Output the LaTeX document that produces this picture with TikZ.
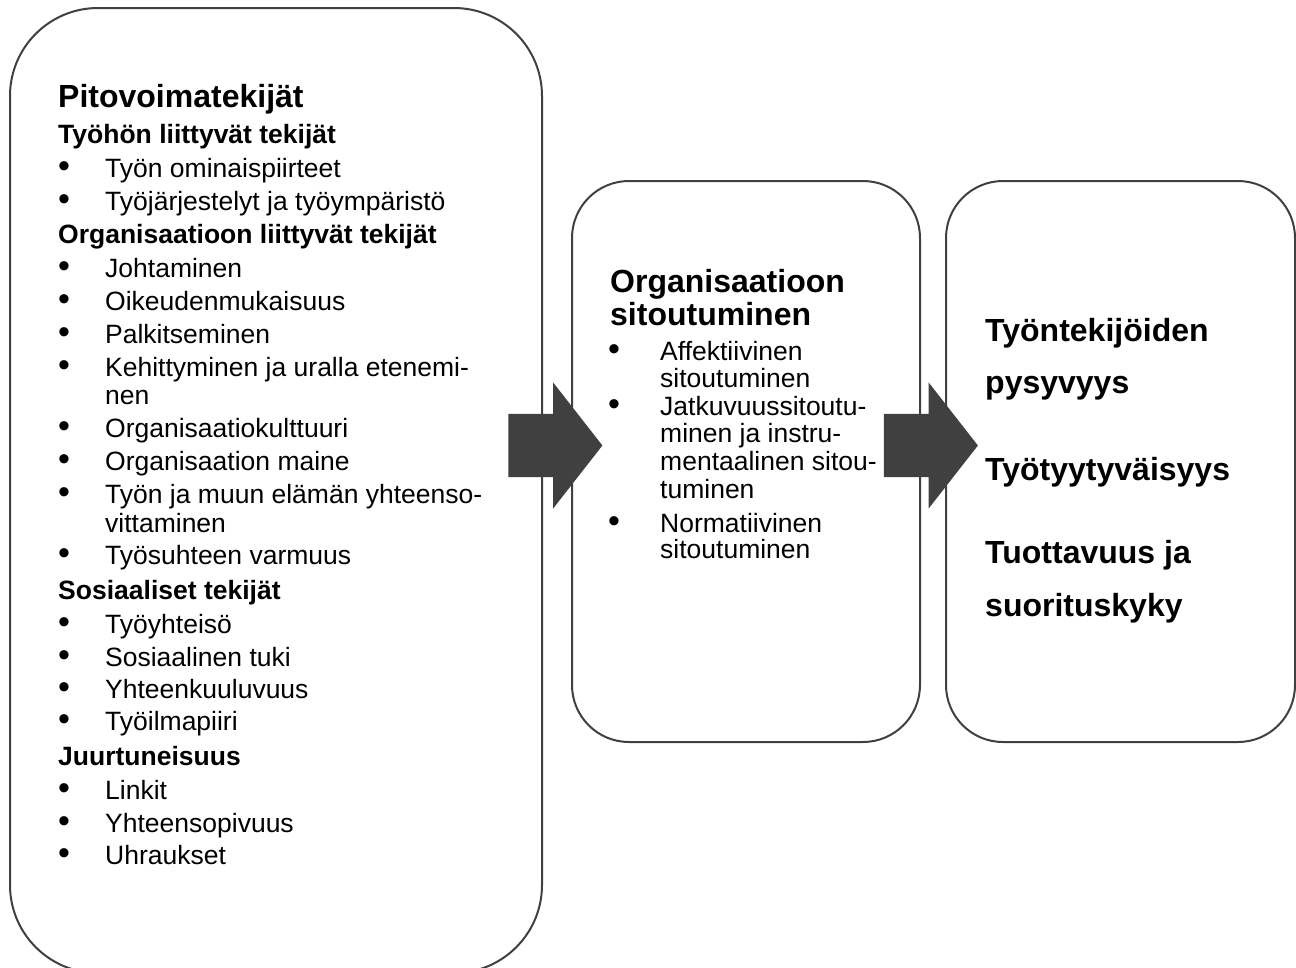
\documentclass[tikz,border=0pt]{standalone}
\usepackage{fontspec}
\setmainfont{Liberation Sans}
\usetikzlibrary{shapes.arrows}
\definecolor{darkgrey}{RGB}{64,64,64}
\newcommand{\bulleted}[2][47pt]{\makebox[#1][l]{\fontsize{34}{30}\selectfont\textbullet}#2}

\begin{document}
\begin{tikzpicture}[
  x=1pt, y=-1pt,
  box/.style={draw=darkgrey, fill=white, rectangle, line width=2pt,
    inner sep=0pt},
  bigbox/.style={box, rounded corners=88pt},
  smallbox/.style={box, rounded corners=57pt},
  bigarrow/.style={single arrow, fill=darkgrey, draw=none, inner sep=0pt,
    text width=0pt, text height=31.5pt, text depth=31.5pt,
    minimum height=94pt, single arrow head extend=31.5pt,
    single arrow tip angle=104},
  title/.style={anchor=base west, inner sep=0pt,
    font=\fontsize{32}{38}\selectfont\bfseries},
  heading/.style={anchor=base west, inner sep=0pt,
    font=\fontsize{26.5}{30}\selectfont\bfseries},
  entry/.style={anchor=base west, inner sep=0pt,
    font=\fontsize{26.5}{30}\selectfont}
]
\useasboundingbox (0,0) rectangle (1296,967);
\clip (0,0) rectangle (1296,967);

% The three boxes
\node[bigbox, minimum width=532pt, minimum height=965pt] (pull) at (276,490.5) {};
\node[smallbox, minimum width=348pt, minimum height=561pt] (commit) at (746,461.5) {};
\node[smallbox, minimum width=349pt, minimum height=561pt] (result) at (1120.5,461.5) {};

% Block arrows between the boxes
\node[bigarrow] (pullarrow) at (543,445.5) {};
\node[bigarrow] (commitarrow) at (918.5,445.5) {};

% Left box: attraction factors
\node[title] (pulltitle) at (58,107) {Pitovoimatekijät};
\node[heading] (workhead) at (58,143) {Työhön liittyvät tekijät};
\node[entry] (work1) at (58,177) {\bulleted{Työn ominaispiirteet}};
\node[entry] (work2) at (58,210) {\bulleted{Työjärjestelyt ja työympäristö}};
\node[heading] (orghead) at (58,243) {Organisaatioon liittyvät tekijät};
\node[entry] (org1) at (58,277) {\bulleted{Johtaminen}};
\node[entry] (org2) at (58,310) {\bulleted{Oikeudenmukaisuus}};
\node[entry] (org3) at (58,343) {\bulleted{Palkitseminen}};
\node[entry] (org4) at (58,376) {\bulleted{Kehittyminen ja uralla etenemi-}};
\node[entry] (org4b) at (105,404) {nen};
\node[entry] (org5) at (58,437) {\bulleted{Organisaatiokulttuuri}};
\node[entry] (org6) at (58,470) {\bulleted{Organisaation maine}};
\node[entry] (org7) at (58,503) {\bulleted{Työn ja muun elämän yhteenso-}};
\node[entry] (org7b) at (105,532) {vittaminen};
\node[entry] (org8) at (58,564) {\bulleted{Työsuhteen varmuus}};
\node[heading] (sochead) at (58,599) {Sosiaaliset tekijät};
\node[entry] (soc1) at (58,633) {\bulleted{Työyhteisö}};
\node[entry] (soc2) at (58,666) {\bulleted{Sosiaalinen tuki}};
\node[entry] (soc3) at (58,698) {\bulleted{Yhteenkuuluvuus}};
\node[entry] (soc4) at (58,730) {\bulleted{Työilmapiiri}};
\node[heading] (roothead) at (58,765) {Juurtuneisuus};
\node[entry] (root1) at (58,799) {\bulleted{Linkit}};
\node[entry] (root2) at (58,832) {\bulleted{Yhteensopivuus}};
\node[entry] (root3) at (58,864) {\bulleted{Uhraukset}};

% Middle box: commitment
\node[title] (committitle) at (610,292) {Organisaatioon};
\node[title] (committitleb) at (610,325) {sitoutuminen};
\node[entry] (commit1) at (608,360) {\bulleted[52pt]{Affektiivinen}};
\node[entry] (commit1b) at (660,387) {sitoutuminen};
\node[entry] (commit2) at (608,415) {\bulleted[52pt]{Jatkuvuussitoutu-}};
\node[entry] (commit2b) at (660,442) {minen ja instru-};
\node[entry] (commit2c) at (660,470) {mentaalinen sitou-};
\node[entry] (commit2d) at (660,498) {tuminen};
\node[entry] (commit3) at (608,532) {\bulleted[52pt]{Normatiivinen}};
\node[entry] (commit3b) at (660,558) {sitoutuminen};

% Right box: outcomes
\node[title] (stay) at (985,341) {Työntekijöiden};
\node[title] (stayb) at (985,393) {pysyvyys};
\node[title] (satisfaction) at (985,480) {Työtyytyväisyys};
\node[title] (output) at (985,563) {Tuottavuus ja};
\node[title] (outputb) at (985,616) {suorituskyky};

\end{tikzpicture}
\end{document}
